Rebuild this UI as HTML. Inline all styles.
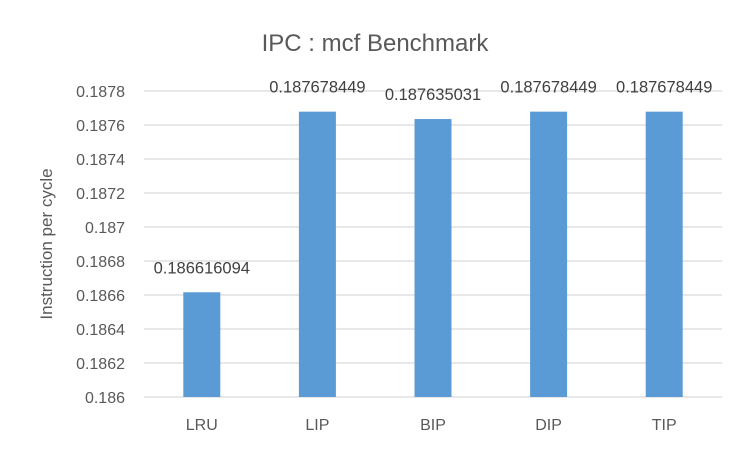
<!DOCTYPE html>
<html><head><meta charset="utf-8"><style>
body{margin:0;background:#fff;}
svg{font-family:"Liberation Sans","Noto Sans CJK KR",sans-serif;}
</style></head><body>
<svg id="chart" width="750" height="450">
<text x="375" y="51" text-anchor="middle" font-size="24" fill="#595959">IPC : mcf Benchmark</text>
<text transform="translate(52,244) rotate(-90)" text-anchor="middle" font-size="17" fill="#595959">Instruction per cycle</text>
<g id="grid"></g><g id="bars"></g><g id="labels"></g>
</svg>
<script>
const categories=["LRU","LIP","BIP","DIP","TIP"];
const values=[0.186616094,0.187678449,0.187635031,0.187678449,0.187678449];
const valueLabels=["0.186616094","0.187678449","0.187635031","0.187678449","0.187678449"];
const ticks=[0.186,0.1862,0.1864,0.1866,0.1868,0.187,0.1872,0.1874,0.1876,0.1878];
const tickLabels=["0.186","0.1862","0.1864","0.1866","0.1868","0.187","0.1872","0.1874","0.1876","0.1878"];
const NS="http://www.w3.org/2000/svg";
const L=144,R=722,T=91,B=397,ymin=0.186,ymax=0.1878;
const y=v=>B-(v-ymin)/(ymax-ymin)*(B-T);
const band=(R-L)/categories.length;
const x=i=>L+band*(i+0.5);
function mk(tag,attrs,parent,txt){const e=document.createElementNS(NS,tag);for(const k in attrs)e.setAttribute(k,attrs[k]);if(txt!=null)e.textContent=txt;document.getElementById(parent).appendChild(e);return e;}
ticks.forEach((t,i)=>{
 const g=mk("line",{x1:L,x2:R,y1:y(t),y2:y(t),stroke:"#d9d9d9","stroke-width":1.3},"grid");
 
 
 const tl=mk("text",{x:125,y:y(t)+6,"text-anchor":"end","font-size":16,fill:"#595959"},"grid",tickLabels[i]);
 
 
});
categories.forEach((c,i)=>{
 const b=mk("rect",{x:x(i)-18.5,y:y(values[i]),width:37,height:B-y(values[i]),fill:"#5b9bd5"},"bars");
 
 
 const vl=mk("text",{x:x(i),y:y(values[i])-19,"text-anchor":"middle","font-size":16.5,fill:"#404040"},"labels",valueLabels[i]);
 
 
 const cl=mk("text",{x:x(i),y:430,"text-anchor":"middle","font-size":16,fill:"#595959"},"labels",c);
 
 
});
</script>
</body></html>
